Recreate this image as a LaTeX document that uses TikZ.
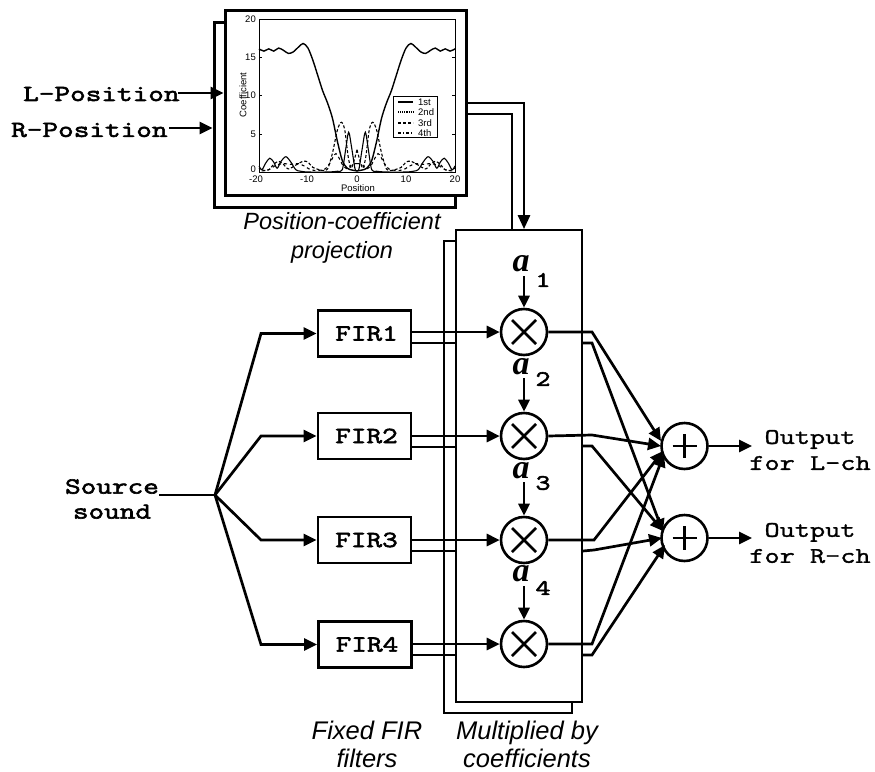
\documentclass[tikz,border=0pt]{standalone}
\usepackage{fontspec}
\setmainfont{Liberation Sans}
\newfontfamily\cfb[FakeStretch=1.32,FakeBold=2.6]{Latin Modern Mono}
\newfontfamily\cfr[FakeStretch=1.32,FakeBold=1.6]{Latin Modern Mono}
\newfontfamily\serifa{Liberation Serif}
\usetikzlibrary{arrows.meta,calc}
\tikzset{
  conn/.style={line width=2.7pt,line join=miter},
  arr/.style={conn,-{Triangle[length=13pt,width=12pt]}},
  firbox/.style={draw,line width=2.8pt,fill=white,minimum width=93pt,minimum height=46pt,inner sep=0pt,font=\cfb\fontsize{23}{23}\selectfont},
  multc/.style={circle,draw,line width=2.6pt,fill=white,minimum size=46pt,inner sep=0pt},
  panelb/.style={draw,line width=1.8pt,fill=white,inner sep=0pt},
  plotb/.style={draw,line width=3pt,fill=white,inner sep=0pt},
  lab/.style={font=\cfb\fontsize{23}{25}\selectfont,align=center,inner sep=0pt},
  outlab/.style={font=\cfr\fontsize{22.3}{26}\selectfont,align=center,inner sep=0pt},
  captext/.style={font=\itshape\fontsize{23.5}{29}\selectfont,align=center,inner sep=0pt},
  capbig/.style={font=\itshape\fontsize{25.5}{28}\selectfont,align=center,inner sep=0pt},
  coef/.style={font=\serifa\bfseries\itshape\fontsize{34}{34}\selectfont,inner sep=0pt},
  idx/.style={font=\cfb\fontsize{22}{22}\selectfont,inner sep=0pt},
  ticklab/.style={font=\fontsize{9.5}{10}\selectfont,inner sep=0pt},
  cmain/.style={line width=1.4pt,smooth},
  cother/.style={line width=1.1pt,smooth},
}
\begin{document}
\begin{tikzpicture}[x=1pt,y=-1pt]
\useasboundingbox (0,0) rectangle (875,771);
% projection box
\node[plotb,minimum width=241pt,minimum height=185pt] (pb) at (334.5,115) {};
\node[plotb,minimum width=241pt,minimum height=185pt] (pf) at (345.5,103) {};
% axes
\node[draw,line width=0.9pt,minimum width=196pt,minimum height=153pt,inner sep=0pt] (ax) at (357,95.5) {};
\foreach \v/\yy/\yl in {20/19/19,15/57.5/57.5,10/95.5/95.5,5/134/134,0/172/169}{
  \node[ticklab,anchor=east] (yt\v) at (256,\yl) {\v};
  \draw[line width=0.6pt] (259,\yy) -- (262,\yy);
  \draw[line width=0.6pt] (455,\yy) -- (452,\yy);
}
\foreach \v/\xx in {-20/256,-10/307,0/357,10/406,20/455}{
  \node[ticklab] (xt\v) at (\xx,179.5) {\v};
}
\node[ticklab,rotate=90] (ylab) at (243,95) {Coefficient};
\node[ticklab] (xlab) at (358,188) {Position};
% curves
\foreach \s in {1,-1}{
\begin{scope}[shift={(357,172)},x=4.9pt,y=7.65pt,xscale=\s]
\draw[cmain] plot coordinates {(0,0.15)(1,0.25)(2,0.5)(3,1.5)(4,4)(5,7)(6,9)(7,10.6)(8,12.6)(9,14.6)(10,16.2)(11,16.8)(12,16.3)(13,15.7)(14,15.5)(15,15.9)(16,16.2)(17,15.8)(18,16.1)(19,15.8)(20,16.1)};
\draw[cother,densely dashed] plot coordinates {(0,2.9)(0.6,1.5)(1.2,0.5)(1.8,2)(2.5,5.5)(3.2,6.5)(4,5.5)(5,2.5)(6,0.4)(7,0.2)(9,0.6)(10,1.3)(11,1.4)(12.5,0.9)(14,0.4)(15,1)(16,1.4)(17,1)(18,0.3)(19,0.2)(20,0.5)};
\draw[cother] plot coordinates {(0,0.2)(0.4,0.4)(1.1,3.2)(1.7,5.2)(2.3,3)(3,0.3)(4,0.1)(6,0)(10,0)(11.5,0.1)(12.5,0.3)(13.5,1.3)(14.5,2)(15.5,1.4)(16.3,0.5)(17,1.3)(17.8,1.8)(18.6,1.2)(19.4,0.3)(20,0.8)};
\draw[cother,dashed] plot coordinates {(0,1.1)(1,1)(2,0.4)(3,1)(4.3,2.4)(5.5,1.2)(6.5,0.4)(8,0.2)(9.5,0.3)(10.5,0.7)(12,1.1)(13.5,1)(15,1.1)(16.5,0.9)(18,0.3)(20,0.1)};
\end{scope}}
% legend
\node[draw,line width=0.9pt,fill=white,minimum width=44pt,minimum height=41pt,inner sep=0pt] (leg) at (415,116.5) {};
\foreach \t/\yy/\st in {1st/102/solid,2nd/112/densely dotted,3rd/123/densely dashed,4th/133/dashdotted}{
  \draw[line width=1.1pt,\st] (398,\yy) -- (413,\yy);
  \node[ticklab,anchor=west] (l\t) at (418,\yy) {\t};
}
% multiplier panel
\node[panelb,minimum width=128pt,minimum height=472pt] (mb) at (508,477) {};
\node[panelb,minimum width=126pt,minimum height=472pt] (mf) at (519,466) {};
% labels
\node[lab,anchor=west] (lp) at (23,94) {L-Position};
\node[lab,anchor=west] (rp) at (11,130) {R-Position};
\node[lab] (src) at (112,499) {Source\\sound};
\node[outlab] (ol) at (810,450) {Output\\for L-ch};
\node[outlab] (or) at (810,543) {Output\\for R-ch};
\node[captext] (c1) at (342,238) {Position-coefficient\\projection};
\node[capbig] (c2) at (367,744) {Fixed FIR\\filters};
\node[capbig] (c3) at (527,744) {Multiplied by\\coefficients};
% FIR boxes
\node[firbox] (f1) at (364.5,333.5) {\hspace*{4pt}FIR1};
\node[firbox] (f2) at (364.5,436) {\hspace*{4pt}FIR2};
\node[firbox] (f3) at (364.5,540) {\hspace*{4pt}FIR3};
\node[firbox] (f4) at (365,644.5) {\hspace*{4pt}FIR4};
% multipliers
\foreach \n/\yy in {1/332,2/436,3/540,4/644}{
  \node[multc] (m\n) at (524,\yy) {};
  \draw[line width=2.6pt] ($(m\n)+(-12,-12)$) -- ($(m\n)+(12,12)$) ($(m\n)+(-12,12)$) -- ($(m\n)+(12,-12)$);
}
% adders
\foreach \n/\yy in {L/446,R/538}{
  \node[multc] (p\n) at (684.5,\yy) {};
  \draw[line width=2.6pt] ($(p\n)+(-12,0)$) -- ($(p\n)+(12,0)$) ($(p\n)+(0,-12)$) -- ($(p\n)+(0,12)$);
}
% coefficient labels
\foreach \n/\ya/\yi/\ys/\ye in {1/264/280/276/m1,2/367/379/378/m2,3/471/483/482/m3,4/574/588/586/m4}{
  \node[coef] (a\n) at (521,\ya) {a};
  \node[idx] (i\n) at (543,\yi) {\n};
  \coordinate (as\n) at (524,\ys);
  \draw[conn,-{Triangle[length=12pt,width=11pt]}] (as\n) -- (\ye.north);
}
% inputs
\coordinate (lend) at (178,93);
\coordinate (rend) at (169,128);
\draw[arr] (lend) -- (lend -| pf.west);
\draw[arr] (rend) -- (rend -| pb.west);
% coefficient outputs
\coordinate (o1) at (pf.east |- 0,103);
\coordinate (o2) at (pf.east |- 0,114);
\coordinate (k1) at (524,103);
\coordinate (k2) at (512,114);
\draw[conn,-{Triangle[length=14pt,width=12pt]}] (o1) -- (k1) -- (k1 |- mf.north);
\draw[conn] (o2) -- (k2) -- (k2 |- mf.north);
% source
\coordinate (sa) at (159,495);
\coordinate (sj) at (215,495);
\draw[conn] (sa) -- (sj);
\foreach \n in {1,2,3,4}{
  \coordinate (b\n) at (261,0);
  \draw[arr] (sj) -- (b\n |- f\n.west) -- (f\n.west);
}
% FIR to multipliers
\foreach \n in {1,2,3,4}{
  \draw[arr] (f\n.east |- m\n.west) -- (m\n.west);
  \coordinate (fs\n) at ($(m\n.west -| f\n.east)+(0,11)$);
  \draw[conn] (fs\n) -- (fs\n -| mf.west);
}
% multipliers to adders
\draw[arr] (m1.east) -- (592,332) -- (661,441);
\draw[arr] (mf.east |- 0,343) -- (592,343) -- (663,532);
\draw[arr] (m2.east) -- (592,435) -- (661,446);
\draw[arr] (mf.east |- 0,446) -- (592,446) -- (663,531);
\draw[arr] (m3.east) -- (594,540) -- (663,451);
\draw[arr] (mf.east |- 0,551) -- (594,550) -- (662,538);
\draw[arr] (m4.east) -- (592,644) -- (664,454);
\draw[arr] (mf.east |- 0,655) -- (592,655) -- (665,545);
% outputs
\coordinate (ole) at (752,446);
\coordinate (ore) at (752,538);
\draw[arr] (pL.east) -- (ole);
\draw[arr] (pR.east) -- (ore);
\end{tikzpicture}
\end{document}
